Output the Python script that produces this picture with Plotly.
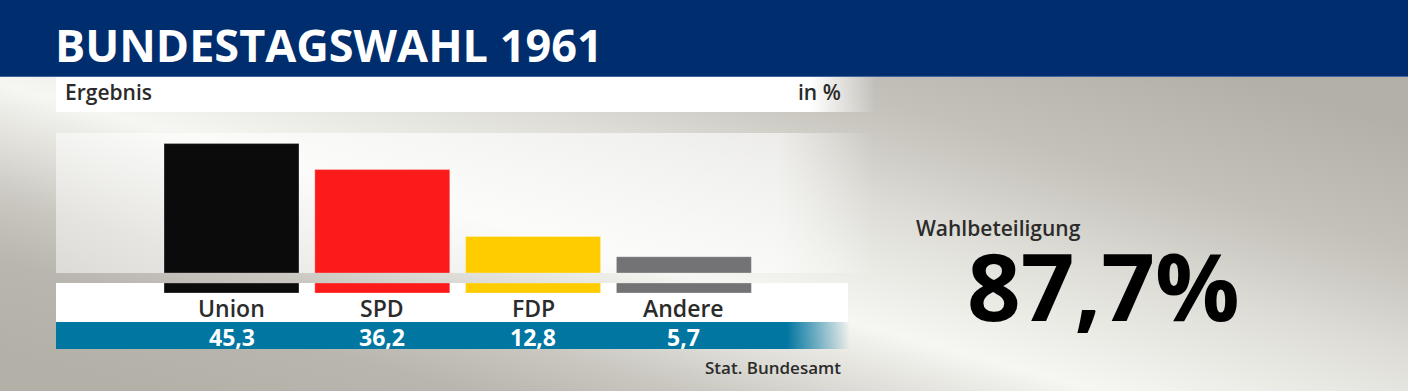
import base64
import plotly.graph_objects as go

# ---------------- data ----------------
parties = ["Union", "SPD", "FDP", "Andere"]
shares = [45.3, 36.2, 12.8, 5.7]
colors = ["#0b0b0b", "#fc1b1b", "#ffcc00", "#737375"]
title_text = "BUNDESTAGSWAHL 1961"
subtitle = "Ergebnis"
unit = "in %"
source = "Stat. Bundesamt"
turnout_label = "Wahlbeteiligung"
turnout = 87.7

W, H = 1408, 391


def fx(px):
    return px / W


def fy(py):
    return 1 - py / H


def de(v):
    return f"{v:.1f}".replace(".", ",")


# ---------------- background artwork ----------------
svg = f"""<svg xmlns="http://www.w3.org/2000/svg" width="{W}" height="{H}" viewBox="0 0 {W} {H}">
<defs>
 <linearGradient id="bg" gradientUnits="userSpaceOnUse" x1="-50" y1="340" x2="111" y2="-237">
  <stop offset="0" stop-color="#b3b0a8"/>
  <stop offset="0.15" stop-color="#b9b6af"/>
  <stop offset="0.25" stop-color="#c9c7c0"/>
  <stop offset="0.333" stop-color="#dedDd7"/>
  <stop offset="0.433" stop-color="#f6f6f2"/>
  <stop offset="0.533" stop-color="#eaeae5"/>
  <stop offset="0.633" stop-color="#dddcd6"/>
  <stop offset="0.75" stop-color="#cac8c1"/>
  <stop offset="0.8" stop-color="#c3c1ba"/>
  <stop offset="1" stop-color="#b3b0a8"/>
 </linearGradient>
 <linearGradient id="erg" gradientUnits="userSpaceOnUse" x1="56" y1="0" x2="876" y2="0">
  <stop offset="0" stop-color="#ffffff" stop-opacity="1"/>
  <stop offset="0.92" stop-color="#ffffff" stop-opacity="1"/>
  <stop offset="1" stop-color="#ffffff" stop-opacity="0"/>
 </linearGradient>
 <linearGradient id="plot" gradientUnits="userSpaceOnUse" x1="56" y1="0" x2="875" y2="0">
  <stop offset="0" stop-color="#ffffff" stop-opacity="0.5"/>
  <stop offset="0.3" stop-color="#ffffff" stop-opacity="0.62"/>
  <stop offset="0.88" stop-color="#ffffff" stop-opacity="0.6"/>
  <stop offset="1" stop-color="#ffffff" stop-opacity="0"/>
 </linearGradient>
 <linearGradient id="blue" gradientUnits="userSpaceOnUse" x1="56" y1="0" x2="850" y2="0">
  <stop offset="0" stop-color="#0076a1" stop-opacity="1"/>
  <stop offset="0.92" stop-color="#0076a1" stop-opacity="1"/>
  <stop offset="1" stop-color="#0076a1" stop-opacity="0"/>
 </linearGradient>
</defs>
<rect x="0" y="0" width="{W}" height="{H}" fill="url(#bg)"/>
<rect x="0" y="0" width="{W}" height="77" fill="#002d6e"/>
<rect x="0" y="76" width="{W}" height="1" fill="#3f63a0"/>
<rect x="56" y="77" width="820" height="35" fill="url(#erg)"/>
<rect x="56" y="133" width="819" height="140" fill="url(#plot)"/>
<rect x="56" y="283" width="792" height="39" fill="#ffffff"/>
<rect x="56" y="322" width="794" height="27" fill="url(#blue)"/>
</svg>"""
svg_uri = "data:image/svg+xml;base64," + base64.b64encode(svg.encode()).decode()

# ---------------- geometry of the bar panel ----------------
centre0, step = 231.5, 150.8
x_left = centre0 - step / 2
x_right = x_left + step * len(parties)
zero_px, top_px = 273, 133
px_per_unit = 2.857
foot_top, foot_bot = 283, 293

fig = go.Figure()
fig.add_trace(go.Bar(
    x=parties, y=shares, marker=dict(color=colors, line=dict(width=1, color="rgba(255,255,255,0.28)")),
    width=0.895, xaxis="x", yaxis="y", hoverinfo="skip", showlegend=False,
))
# lower "feet" of the bars below the gap strip
fig.add_trace(go.Bar(
    x=parties, y=[1] * len(parties), marker=dict(color=colors, line=dict(width=1, color="rgba(255,255,255,0.28)")),
    width=0.895, xaxis="x", yaxis="y2", hoverinfo="skip", showlegend=False,
))

annotations = [
    dict(text=f"<b>{title_text}</b>", x=fx(53), y=fy(45), xanchor="left", yanchor="middle",
         font=dict(family="Open Sans", size=45, color="#ffffff")),
    dict(text=subtitle, x=fx(63), y=fy(92), xanchor="left", yanchor="middle",
         font=dict(family="Open Sans", size=21, color="#2b2b2b", weight=600)),
    dict(text=unit, x=fx(843), y=fy(92), xanchor="right", yanchor="middle",
         font=dict(family="Open Sans", size=21, color="#2b2b2b", weight=600)),
    dict(text=source, x=fx(843), y=fy(367), xanchor="right", yanchor="middle",
         font=dict(family="Open Sans", size=17, color="#2b2b2b", weight=600)),
    dict(text=turnout_label, x=fx(914), y=fy(228), xanchor="left", yanchor="middle",
         font=dict(family="Open Sans", size=21, color="#2b2b2b", weight=600)),
    dict(text=f"<b>{de(turnout)}%</b>", x=fx(1103), y=fy(285), xanchor="center", yanchor="middle",
         font=dict(family="Open Sans", size=94, color="#000000")),
]
for p, v in zip(parties, shares):
    annotations.append(dict(text=p, x=p, xref="x", y=fy(308), yref="paper", xanchor="center",
                            yanchor="middle", showarrow=False,
                            font=dict(family="Open Sans", size=23, color="#2b2b2b", weight=600)))
    annotations.append(dict(text=de(v), x=p, xref="x", y=fy(337), yref="paper", xanchor="center",
                            yanchor="middle", showarrow=False,
                            font=dict(family="Open Sans", size=23, color="#ffffff", weight=700)))
for a in annotations:
    a.setdefault("xref", "paper")
    a.setdefault("yref", "paper")
    a.setdefault("showarrow", False)

fig.update_layout(
    width=W, height=H, margin=dict(l=0, r=0, t=0, b=0),
    paper_bgcolor="#b3b0a8", plot_bgcolor="rgba(0,0,0,0)",
    bargap=0,
    xaxis=dict(domain=[fx(x_left), fx(x_right)], range=[-0.5, len(parties) - 0.5],
               visible=False, fixedrange=True),
    yaxis=dict(domain=[fy(zero_px), fy(top_px)], range=[0, (zero_px - top_px) / px_per_unit],
               visible=False, fixedrange=True),
    yaxis2=dict(domain=[fy(foot_bot), fy(foot_top)], range=[0, 1], visible=False,
                fixedrange=True, anchor="x"),
    images=[dict(source=svg_uri, xref="paper", yref="paper", x=0, y=1, sizex=1, sizey=1,
                 xanchor="left", yanchor="top", sizing="stretch", layer="below")],
    annotations=annotations,
    showlegend=False,
)

fig.write_html("out.html", config=dict(displayModeBar=False, staticPlot=True))
